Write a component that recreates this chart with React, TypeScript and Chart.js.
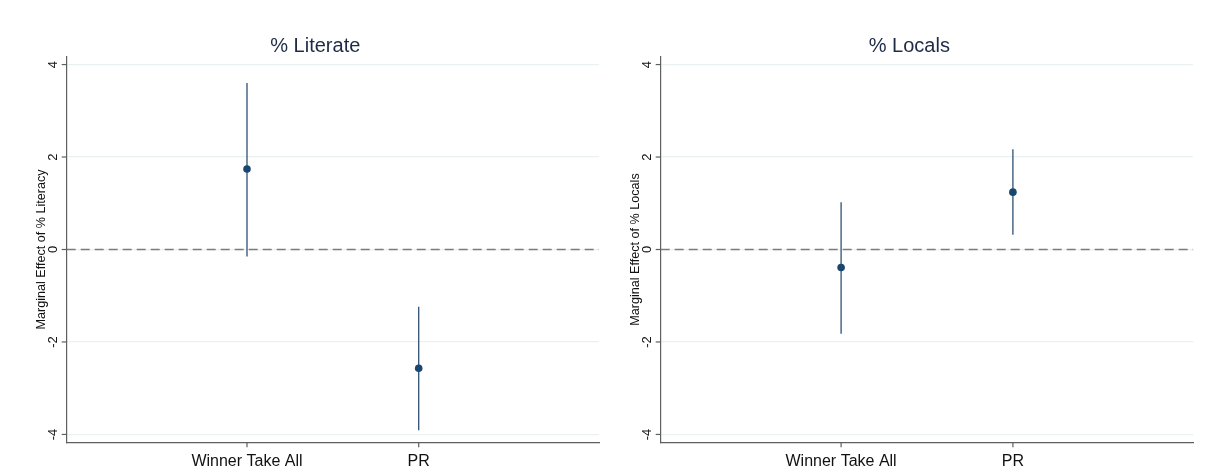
import React, { useEffect, useRef } from "react";
import { Chart, registerables } from "chart.js";

Chart.register(...registerables);

// ---- data ----
const categories = ["Winner Take All", "PR"];
const categoryX = [1, 2];
const yTickValues = [4, 2, 0, -2, -4];
const yTickLabels = ["4", "2", "0", "-2", "-4"];

const literateEst = [1.74, -2.57];
const literateLo = [-0.15, -3.91];
const literateHi = [3.6, -1.24];

const localsEst = [-0.39, 1.24];
const localsLo = [-1.82, 0.32];
const localsHi = [1.02, 2.17];

const panelTitles = ["% Literate", "% Locals"];
const yTitles = ["Marginal Effect of % Literacy", "Marginal Effect of % Locals"];

// ---- style ----
const X_MIN = -0.05;
const X_MAX = 3.05;
const Y_MIN = -4.17;
const Y_MAX = 4.17;
const FONT = "'Liberation Sans', Arial, sans-serif";
const MARK = "#1a476f";
const CI = "#2f5073";
const AXIS = "#5f5f5f";
const GRID = "#eaf1f2";
const TEXT = "#111111";
const TITLE = "#1e2b45";

function makeOverlay(title: string, yTitle: string, lo: number[], hi: number[], titleX: number) {
  return {
    id: "overlay",
    beforeDatasetsDraw(chart: any) {
      const { ctx, scales } = chart;
      const x = scales.x;
      const y = scales.y;
      ctx.save();
      ctx.strokeStyle = CI;
      ctx.lineWidth = 1.3;
      lo.forEach((l, i) => {
        const px = x.getPixelForValue(categoryX[i]);
        ctx.beginPath();
        ctx.moveTo(px, y.getPixelForValue(l));
        ctx.lineTo(px, y.getPixelForValue(hi[i]));
        ctx.stroke();
      });
      ctx.restore();
    },
    afterDraw(chart: any) {
      const { ctx, scales, chartArea } = chart;
      const x = scales.x;
      const y = scales.y;
      ctx.save();
      // y tick marks + labels
      ctx.strokeStyle = AXIS;
      ctx.lineWidth = 1.2;
      ctx.fillStyle = TEXT;
      ctx.font = `13px ${FONT}`;
      yTickValues.forEach((v, i) => {
        const py = y.getPixelForValue(v);
        ctx.beginPath();
        ctx.moveTo(chartArea.left - 5, py);
        ctx.lineTo(chartArea.left, py);
        ctx.stroke();
        ctx.save();
        ctx.translate(chartArea.left - 9.8, py);
        ctx.rotate(-Math.PI / 2);
        ctx.textAlign = "center";
        ctx.textBaseline = "alphabetic";
        ctx.fillText(yTickLabels[i], 0, 0);
        ctx.restore();
      });
      // x tick marks + labels
      ctx.font = `16px ${FONT}`;
      ctx.textAlign = "center";
      ctx.textBaseline = "alphabetic";
      categories.forEach((c, i) => {
        const px = x.getPixelForValue(categoryX[i]);
        ctx.beginPath();
        ctx.moveTo(px, chartArea.bottom);
        ctx.lineTo(px, chartArea.bottom + 5);
        ctx.stroke();
        ctx.fillText(c, px, chartArea.bottom + 23.7);
      });
      // y title
      ctx.save();
      ctx.font = `12.6px ${FONT}`;
      ctx.translate(chartArea.left - 22.2, (chartArea.top + chartArea.bottom) / 2);
      ctx.rotate(-Math.PI / 2);
      ctx.textAlign = "center";
      ctx.fillText(yTitle, 0, 0);
      ctx.restore();
      // title
      ctx.font = `20px ${FONT}`;
      ctx.fillStyle = TITLE;
      ctx.textAlign = "center";
      ctx.fillText(title, titleX, 51.7);
      ctx.restore();
    },
  };
}

function buildChart(
  canvas: HTMLCanvasElement,
  idx: number,
  est: number[],
  lo: number[],
  hi: number[],
  padRight: number
) {
  return new Chart(canvas, {
    type: "scatter",
    data: {
      datasets: [
        {
          type: "line",
          data: [
            { x: X_MIN, y: 0 },
            { x: X_MAX, y: 0 },
          ],
          borderColor: "#7c7c7c",
          borderDash: [9, 5],
          borderWidth: 1.3,
          pointRadius: 0,
          fill: false,
        } as any,
        {
          data: est.map((v, i) => ({ x: categoryX[i], y: v })),
          backgroundColor: MARK,
          borderColor: MARK,
          borderWidth: 0,
          pointRadius: 3.8,
        },
      ],
    },
    options: {
      animation: false,
      responsive: false,
      events: [],
      layout: { padding: { top: 56.7, right: padRight, bottom: 0, left: 0 } },
      plugins: {
        legend: { display: false },
        title: { display: false },
        tooltip: { enabled: false },
      },
      scales: {
        x: {
          type: "linear",
          min: X_MIN,
          max: X_MAX,
          ticks: { display: false },
          grid: { display: false, drawTicks: false },
          border: { display: true, color: AXIS, width: 1.2 },
          afterFit: (s: any) => {
            s.height = 29.7;
          },
        },
        y: {
          type: "linear",
          min: Y_MIN,
          max: Y_MAX,
          afterBuildTicks: (s: any) => {
            s.ticks = yTickValues.map((v) => ({ value: v }));
          },
          ticks: { display: false },
          grid: { color: GRID, lineWidth: 1.2, drawTicks: false },
          border: { display: true, color: AXIS, width: 1.2 },
          afterFit: (s: any) => {
            s.width = 66.7;
          },
        },
      },
    },
    plugins: [makeOverlay(panelTitles[idx], yTitles[idx], lo, hi, 315.3)],
  } as any);
}

export default function App() {
  const leftRef = useRef<HTMLCanvasElement>(null);
  const rightRef = useRef<HTMLCanvasElement>(null);

  useEffect(() => {
    const a = buildChart(leftRef.current!, 0, literateEst, literateLo, literateHi, 3.7);
    const b = buildChart(rightRef.current!, 1, localsEst, localsLo, localsHi, 12.7);
    return () => {
      a.destroy();
      b.destroy();
    };
  }, []);

  return (
    <div
      style={{
        position: "absolute",
        left: 0,
        top: 0,
        width: 1206,
        height: 472,
        background: "#ffffff",
        overflow: "hidden",
      }}
    >
      <canvas
        ref={leftRef}
        width={603}
        height={472}
        style={{ position: "absolute", left: 0, top: 0, width: 603, height: 472 }}
      />
      <canvas
        ref={rightRef}
        width={612}
        height={472}
        style={{ position: "absolute", left: 594, top: 0, width: 612, height: 472 }}
      />
    </div>
  );
}
